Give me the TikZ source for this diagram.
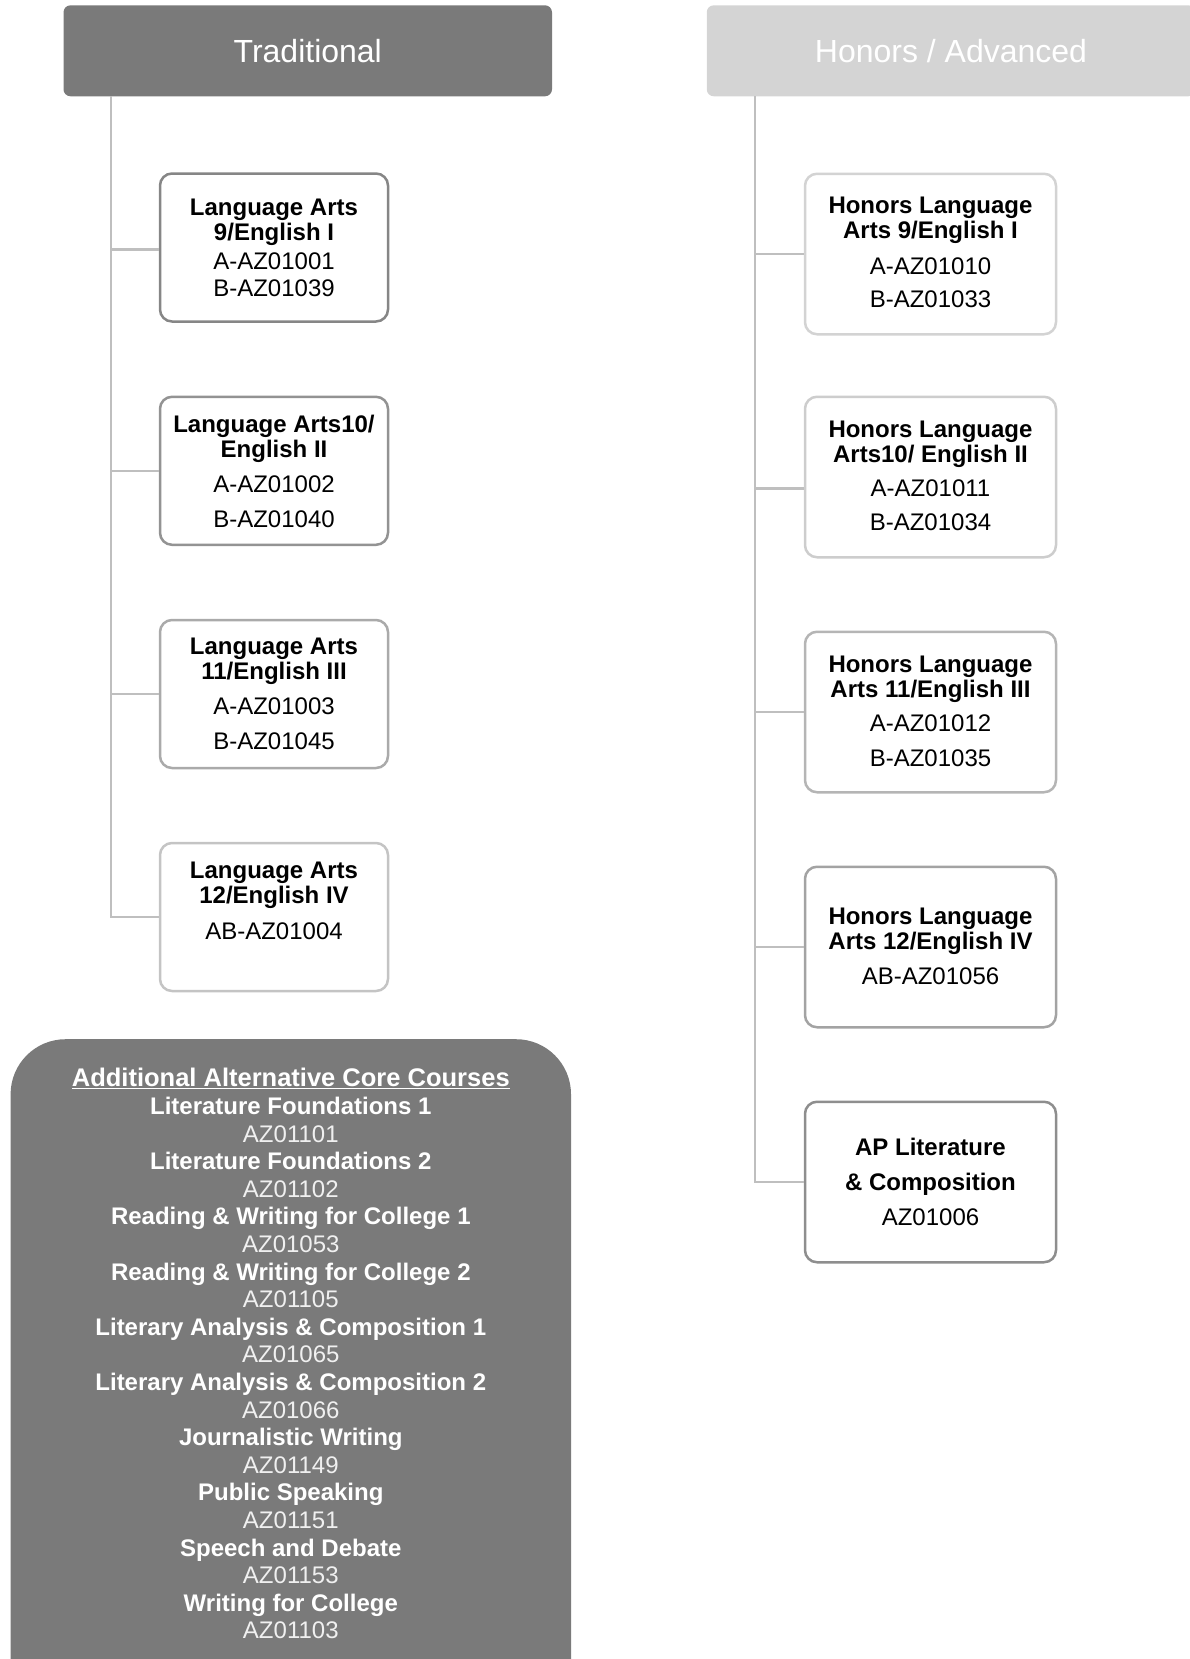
\documentclass[tikz,border=0pt]{standalone}
\usepackage{fontspec}
\setmainfont{Liberation Sans}
\definecolor{hdrdark}{HTML}{7A7A7A}
\definecolor{hdrlight}{HTML}{D4D4D4}
\definecolor{linkgray}{HTML}{BFBFBF}
\definecolor{codegray}{HTML}{F0F0F0}
\definecolor{bA}{HTML}{868686}
\definecolor{bB}{HTML}{939393}
\definecolor{bC}{HTML}{AAAAAA}
\definecolor{bD}{HTML}{C4C4C4}
\definecolor{rA}{HTML}{D3D3D3}
\definecolor{rB}{HTML}{CDCDCD}
\definecolor{rC}{HTML}{B5B5B5}
\definecolor{rD}{HTML}{A3A3A3}
\definecolor{rE}{HTML}{8E8E8E}
\begin{document}
\begin{tikzpicture}[x=1pt,y=-1pt,
  hdrbox/.style={rounded corners=7pt, minimum width=488.5pt, minimum height=91pt,
    inner sep=0pt, text=white, font=\fontsize{32}{36}\selectfont},
  lbox/.style={draw, line width=2.5pt, rounded corners=12pt, fill=white,
    minimum width=228pt, minimum height=148pt, inner sep=0pt},
  rbox/.style={draw, line width=2.5pt, rounded corners=12pt, fill=white,
    minimum width=251pt, minimum height=160.5pt, inner sep=0pt},
  btext/.style={inner sep=0pt, align=center, font=\fontsize{24}{25}\selectfont},
  link/.style={draw=linkgray, line width=2.5pt},
  alttext/.style={inner sep=0pt, align=center, text=white, font=\fontsize{24}{27.6}\selectfont}]
\useasboundingbox (0,0) rectangle (1190,1659);
\clip (0,0) rectangle (1190,1659);

% headers
\node[hdrbox, fill=hdrdark] (trad) at (307.75,50.8) {Traditional};
\node[hdrbox, fill=hdrlight] (hon) at (951,50.8) {Honors / Advanced};

% trunk coordinates
\coordinate (ltop) at (111,96.3);
\coordinate (rtop) at (755,96.3);

% left boxes
\node[lbox, draw=bA] (l1) at (274,247.5) {};
\node[lbox, draw=bB] (l2) at (274,470.8) {};
\node[lbox, draw=bC] (l3) at (274,694) {};
\node[lbox, draw=bD] (l4) at (274,917) {};

\node[btext] (l1t) at (274,248) {\textbf{Language Arts}\\\textbf{9/English I}\\[3.5pt]A-AZ01001\\[2.5pt]B-AZ01039};
\node[btext] (l2t) at (274,471) {\textbf{Language Arts10/}\\\textbf{English II}\\[10pt]A-AZ01002\\[10pt]B-AZ01040};
\node[btext] (l3t) at (274,693.5) {\textbf{Language Arts}\\\textbf{11/English III}\\[10.5pt]A-AZ01003\\[9.5pt]B-AZ01045};
\node[btext] (l4t) at (274,900.8) {\textbf{Language Arts}\\\textbf{12/English IV}\\[11pt]AB-AZ01004};

% right boxes
\node[rbox, draw=rA] (r1) at (930.5,254) {};
\node[rbox, draw=rB] (r2) at (930.5,477) {};
\node[rbox, draw=rC] (r3) at (930.5,712) {};
\node[rbox, draw=rD] (r4) at (930.5,947) {};
\node[rbox, draw=rE] (r5) at (930.5,1182) {};

\node[btext] (r1t) at (930.5,252.7) {\textbf{Honors Language}\\\textbf{Arts 9/English I}\\[10.5pt]A-AZ01010\\[8.5pt]B-AZ01033};
\node[btext] (r2t) at (930.5,476) {\textbf{Honors Language}\\\textbf{Arts10/ English II}\\[9pt]A-AZ01011\\[9pt]B-AZ01034};
\node[btext] (r3t) at (930.5,711) {\textbf{Honors Language}\\\textbf{Arts 11/English III}\\[9pt]A-AZ01012\\[10pt]B-AZ01035};
\node[btext] (r4t) at (930.5,946.7) {\textbf{Honors Language}\\\textbf{Arts 12/English IV}\\[10pt]AB-AZ01056};
\node[btext] (r5t) at (930.5,1181.6) {\textbf{AP Literature}\\[10pt]\textbf{\& Composition}\\[10pt]AZ01006};

% branch points on box borders
\path (l1.west) ++(0,2) coordinate (l1b);
\path (r2.west) ++(0,11.7) coordinate (r2b);

% connectors
\draw[link] (ltop) |- (l4.west);
\draw[link] (ltop |- l1b) -- (l1b);
\draw[link] (ltop |- l2.west) -- (l2.west);
\draw[link] (ltop |- l3.west) -- (l3.west);
\draw[link] (rtop) |- (r5.west);
\draw[link] (rtop |- r1.west) -- (r1.west);
\draw[link] (rtop |- r2b) -- (r2b);
\draw[link] (rtop |- r3.west) -- (r3.west);
\draw[link] (rtop |- r4.west) -- (r4.west);

% alternative courses
\node[fill=hdrdark, rounded corners=55pt, minimum width=560.4pt, minimum height=700pt,
  anchor=north, inner sep=0pt] (alt) at (290.8,1039) {};
\node[alttext] (altt) at (290.8,1353.5) {%
{\fontsize{25.5}{28}\selectfont\underline{\textbf{Additional Alternative Core Courses}}}\\[0.5pt]
\textbf{Literature Foundations 1}\\ {\color{codegray}AZ01101}\\
\textbf{Literature Foundations 2}\\ {\color{codegray}AZ01102}\\
\textbf{Reading \& Writing for College 1}\\ {\color{codegray}AZ01053}\\
\textbf{Reading \& Writing for College 2}\\ {\color{codegray}AZ01105}\\
\textbf{Literary Analysis \& Composition 1}\\ {\color{codegray}AZ01065}\\
\textbf{Literary Analysis \& Composition 2}\\ {\color{codegray}AZ01066}\\
\textbf{Journalistic Writing}\\ {\color{codegray}AZ01149}\\
\textbf{Public Speaking}\\ {\color{codegray}AZ01151}\\
\textbf{Speech and Debate}\\ {\color{codegray}AZ01153}\\
\textbf{Writing for College}\\ {\color{codegray}AZ01103}};
\end{tikzpicture}
\end{document}
